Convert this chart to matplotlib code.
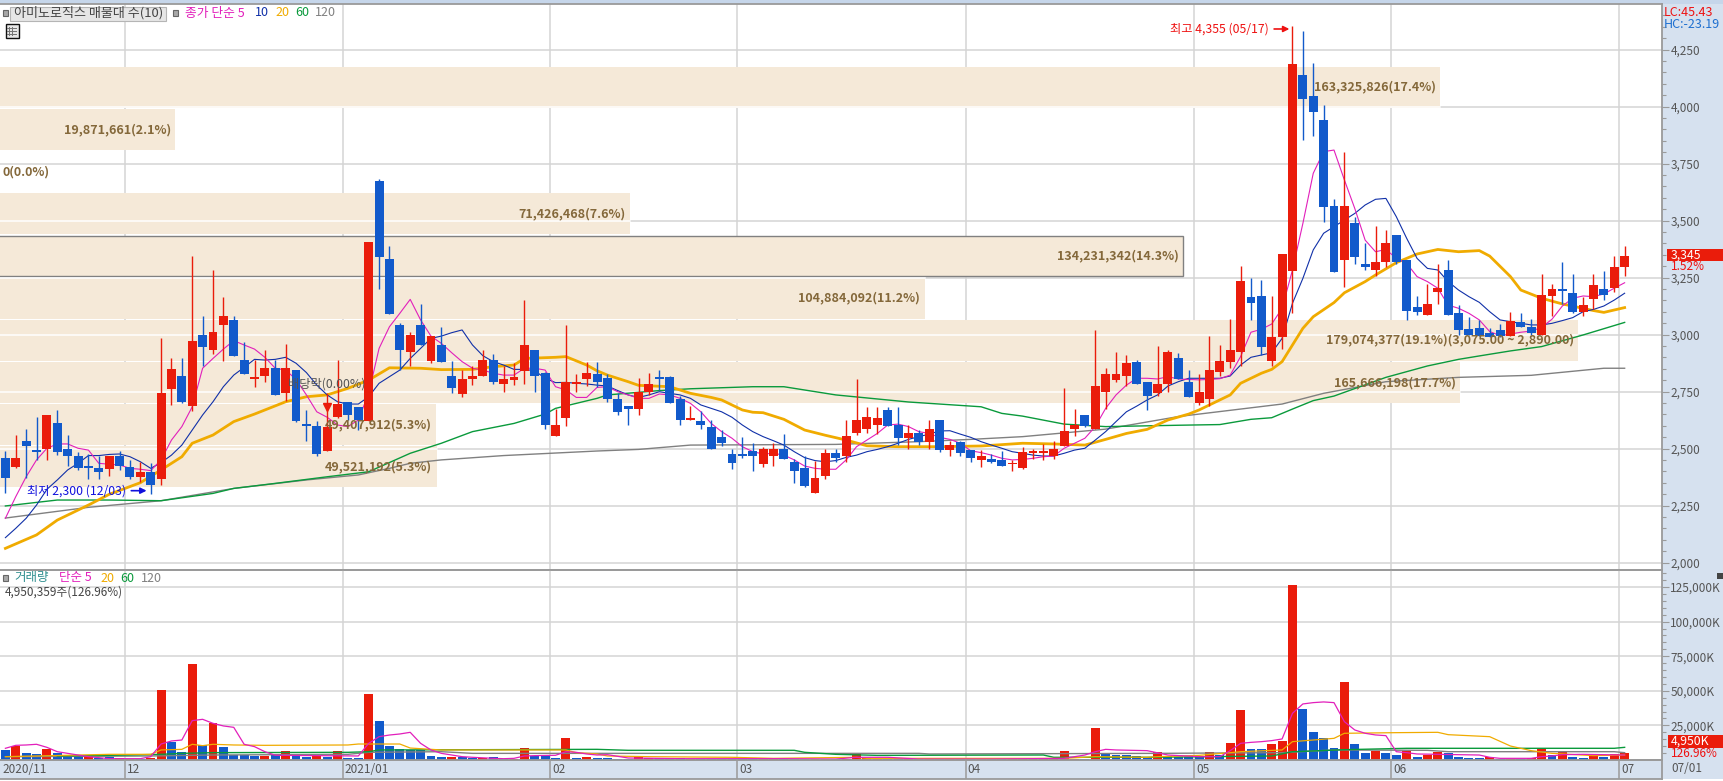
import numpy as np
import matplotlib
matplotlib.use('Agg')
import matplotlib.pyplot as plt
from matplotlib.patches import Rectangle
from matplotlib.ticker import FixedLocator, FuncFormatter

plt.rcParams['font.family'] = ['Noto Sans CJK KR', 'DejaVu Sans']

# 일봉 (open, high, low, close)
opens = [2460,2420,2535,2495,2500,2610,2500,2465,2425,2415,
         2410,2465,2420,2375,2395,2365,2760,2820,2685,3000,
         2930,3040,3065,2890,2805,2820,2855,2745,2845,2605,
         2600,2490,2640,2705,2680,2620,3675,3330,3040,2925,
         3040,2885,2955,2820,2740,2805,2820,2890,2785,2800,
         2840,2930,2830,2555,2635,2785,2805,2825,2810,2715,
         2685,2675,2750,2815,2815,2715,2625,2620,2595,2550,
         2475,2475,2490,2430,2465,2500,2440,2415,2305,2380,
         2480,2465,2570,2585,2605,2670,2605,2545,2570,2530,
         2625,2495,2530,2495,2450,2455,2450,2430,2415,2480,
         2480,2465,2510,2585,2645,2585,2750,2800,2820,2880,
         2790,2745,2785,2895,2790,2700,2715,2835,2880,2925,
         3165,3170,2885,2990,3280,4140,4045,3940,3565,3325,
         3490,3310,3285,3320,3435,3325,3120,3085,3185,3285,
         3095,3025,3030,3005,3020,2995,3055,3035,3000,3170,
         3200,3180,3100,3155,3200,3205,3295]
highs = [2490,2560,2585,2640,2645,2670,2560,2485,2475,2465,
         2465,2490,2450,2440,2435,2985,2895,2895,3345,3080,
         3285,3165,3080,2965,2890,2930,2890,2960,2845,2670,
         2620,2745,2890,2705,2680,3405,3680,3390,3050,3010,
         3135,2995,3035,2885,2845,2860,2930,2915,2860,2875,
         3150,2930,2835,2675,3040,2825,2880,2880,2825,2745,
         2685,2810,2830,2845,2820,2730,2685,2665,2625,2580,
         2500,2550,2525,2505,2525,2565,2455,2465,2445,2500,
         2500,2625,2805,2680,2680,2680,2680,2605,2580,2625,
         2625,2535,2535,2495,2495,2475,2490,2450,2505,2500,
         2520,2535,2765,2675,2645,3020,2855,2925,2910,2890,
         2790,2950,2930,2920,2845,2825,2995,2955,3070,3300,
         3250,3240,3170,3355,4355,4330,4190,4005,3595,3800,
         3515,3400,3475,3460,3435,3325,3170,3220,3310,3325,
         3130,3075,3065,3030,3045,3100,3095,3070,3265,3220,
         3320,3265,3165,3265,3280,3345,3390]
lows = [2305,2415,2370,2450,2450,2470,2425,2405,2365,2365,
        2380,2405,2365,2355,2300,2340,2690,2700,2665,2860,
        2915,2885,2905,2825,2770,2790,2735,2710,2615,2535,
        2465,2490,2635,2625,2580,2620,3200,3090,2845,2860,
        2955,2875,2880,2745,2725,2780,2820,2785,2750,2780,
        2785,2750,2585,2555,2600,2750,2775,2770,2705,2645,
        2605,2645,2735,2755,2700,2605,2625,2585,2500,2510,
        2410,2460,2400,2420,2425,2455,2350,2330,2305,2365,
        2440,2440,2560,2570,2565,2600,2515,2500,2515,2500,
        2485,2465,2465,2440,2420,2435,2425,2400,2410,2455,
        2450,2455,2510,2555,2595,2585,2675,2790,2775,2785,
        2670,2730,2750,2805,2725,2690,2685,2820,2855,2860,
        3065,2910,2860,2935,3095,3855,3870,3495,3275,3210,
        3310,3285,3255,3295,3310,3065,3085,3085,3135,3085,
        3000,3000,2995,2990,2990,2995,3035,3000,3000,3080,
        3135,3095,3080,3110,3150,3185,3255]
closes = [2370,2460,2510,2485,2645,2485,2465,2415,2415,2395,
          2465,2425,2375,2395,2340,2745,2850,2705,2970,2945,
          3010,3080,2905,2825,2810,2855,2735,2855,2620,2600,
          2475,2595,2695,2645,2625,3405,3340,3090,2930,3000,
          2955,2995,2880,2765,2805,2820,2890,2790,2805,2815,
          2955,2820,2605,2605,2790,2790,2830,2790,2715,2660,
          2675,2750,2785,2805,2700,2625,2635,2605,2500,2525,
          2435,2465,2465,2500,2500,2455,2400,2335,2370,2480,
          2460,2555,2625,2640,2635,2600,2545,2570,2530,2585,
          2495,2515,2480,2460,2465,2440,2425,2435,2485,2485,
          2485,2500,2575,2605,2600,2775,2825,2825,2875,2785,
          2730,2785,2925,2805,2725,2750,2845,2885,2930,3235,
          3140,2945,2990,3355,4185,4035,3975,3560,3275,3565,
          3340,3295,3320,3400,3320,3105,3100,3135,3205,3085,
          3020,3000,2995,2990,2995,3060,3035,3005,3175,3200,
          3190,3100,3130,3215,3175,3295,3345]

# 이동평균 5 / 10 (매일)
ma5 = [2194,2289,2376,2450,2501,2520,2520,2501,2493,2435,2431,2428,2413,2409,2403,2450,2537,2596,2683,2852,
       2895,2936,2973,2954,2936,2900,2852,2844,2803,2735,2661,2637,2603,2596,2625,2742,2939,3034,3093,3154,
       3064,2993,2961,2920,2881,2852,2844,2830,2822,2822,2852,2852,2844,2771,2757,2724,2724,2768,
       2771,2749,2735,2720,2720,2739,2735,2720,2698,2661,2610,2574,2545,2508,2486,2476,2479,2471,2450,2423,
       2413,2409,2409,2450,2508,2537,2566,2603,2607,2596,2574,2566,2549,2540,2523,2490,2482,2471,2457,2450,
       2452,2457,2464,2467,2501,2523,2545,2596,2676,2735,2778,2808,2808,2805,2815,2805,2803,
       2801,2803,2806,2822,2903,3010,3023,3046,3115,
       3283,3487,3707,3802,3809,3678,3553,3414,3363,3373,3334,3312,3254,3232,3203,
       3129,3115,3093,3064,3013,2995,3002,3010,3015,3031,3067,3125,3159,3169,3166,3178,3203,3227]
ma10 = [2109,2150,2194,2252,2321,2362,2406,2435,2469,2469,2474,2476,2464,2442,2413,2438,2471,2515,2581,2647,
        2705,2771,2822,2856,2891,2888,2891,2900,2874,2833,2778,2735,2705,2695,2695,2727,2786,2815,2844,2895,
        2939,2983,2993,3008,3020,2954,2907,2881,2866,2847,2847,2841,2808,2789,2790,2786,2783,2778,
        2774,2754,2735,2724,2735,2749,2742,2735,2720,2691,2676,2661,2637,2603,2574,2552,2534,2515,2486,2460,
        2447,2442,2447,2461,2471,2486,2496,2508,2523,2540,2552,2563,2577,2578,2563,2549,2530,2515,2501,2486,
        2479,2471,2467,2467,2479,2493,2501,2537,2574,2618,2661,2686,2713,2735,2774,2793,2808,
        2808,2808,2808,2818,2866,2900,2910,2920,2983,3137,
        3246,3371,3444,3473,3502,3531,3568,3593,3597,3517,3422,3334,3290,3283,3232,
        3195,3166,3141,3100,3064,3056,3049,3042,3042,3049,3061,3074,3100,3110,3125,3151,3181]

# 이동평균 20 / 60 / 120 (읽은 지점)
ma20_idx = [0,3,5,8,10,13,15,17,18,20,22,24,25,27,29,31,33,35,37,40,42,45,47,49,50,53,54,56,57,
            58,60,61,64,66,68,69,71,72,73,75,77,79,81,83,86,90,94,98,101,104,106,108,110,112,114,115,
            118,119,121,122,123,125,126,128,129,131,132,134,136,138,140,142,143,145,146,148,150,153,154,156]
ma20 = [2062,2121,2186,2252,2299,2350,2406,2464,2523,2559,2618,2651,2669,2705,2727,2735,2764,2800,2854,2852,2846,2847,2859,2866,2895,2900,2903,2866,2841,
        2822,2793,2777,2771,2742,2724,2713,2669,2659,2657,2628,2581,2558,2537,2512,2508,2508,2511,2523,2520,2515,2540,2566,2584,2625,2651,2669,
        2735,2786,2830,2847,2881,3027,3078,3140,3183,3232,3261,3315,3353,3373,3363,3368,3344,3254,3195,3159,3134,3105,3097,3118]
ma60_idx = [0,5,10,15,20,22,26,31,35,39,42,45,49,52,53,57,58,63,66,72,75,80,87,94,96,98,102,106,
            113,117,120,122,124,126,128,133,137,140,142,145,148,152,156]
ma60 = [2248,2274,2274,2271,2303,2325,2347,2376,2398,2479,2523,2574,2610,2651,2676,2720,2735,2754,2762,2771,2771,2735,2704,2683,2654,2642,2607,2596,
        2602,2605,2628,2635,2673,2710,2730,2812,2862,2891,2906,2928,2947,2998,3053]
ma120_idx = [0,8,15,22,29,34,37,39,42,48,57,61,66,80,88,93,98,106,113,123,127,133,140,147,154,156]
ma120 = [2195,2242,2271,2325,2362,2384,2413,2435,2450,2469,2489,2496,2515,2518,2530,2540,2552,2585,2640,2695,2742,2793,2812,2821,2852,2852]

# 매물대
band_low = [3992,3807,3622,3437,3252,3067,2882,2697,2512,2327]
band_high = [4177,3992,3807,3622,3437,3252,3067,2882,2697,2512]
band_vol = [163325826,19871661,0,71426468,134231342,104884092,179074377,165666198,49407912,49521192]
band_text = ['163,325,826(17.4%)','19,871,661(2.1%)','0(0.0%)','71,426,468(7.6%)','134,231,342(14.3%)',
             '104,884,092(11.2%)','179,074,377(19.1%)(3,075.00 ~ 2,890.00)','165,666,198(17.7%)',
             '49,407,912(5.3%)','49,521,192(5.3%)']
band_current = 4

# 거래량 (K)
volume = [7200,10100,5050,4350,7950,5300,3600,3150,2900,1450,
          2400,1200,950,950,1200,50600,13250,5800,69400,10850,
          26500,9400,3600,3600,2900,2900,3600,6250,3150,2150,
          3150,2150,6250,1450,1450,47700,28200,10100,7950,7200,
          7200,2900,2150,2150,2150,1450,1450,2150,700,700,
          8650,3150,3150,1450,15900,1450,2150,1700,1450,950,
          950,1950,1200,1200,1200,1200,950,950,950,950,
          950,950,950,950,950,950,950,700,700,700,
          700,700,4800,1200,950,950,950,950,950,950,
          700,700,700,700,700,700,700,700,700,700,
          700,700,6500,950,950,23150,4350,3600,3600,2900,
          2400,5800,2900,1900,2400,2400,5800,3600,12300,36150,
          7950,7950,11550,13750,126500,36850,20250,15650,8650,56400,
          11550,5050,6500,5050,3600,6500,2150,3850,6000,4800,
          2150,1450,1450,2150,950,700,950,1200,7950,3350,
          6000,2150,1450,2900,2150,4350,4950]
vol_color = ('brbbrbbbrb' 'brrbrrbbrb' 'rbbbbrbrbb' 'rbrbbrbbbb' 'bbbrbbrbbr' 'rbbbrbrbbb'
             'brrbbbrbbb' 'bbbrrbbbrr' 'brrrrbbrbr' 'brbbrbbrrr' 'rrrrbrbbbb' 'brbbbbrbrr'
             'bbrrrbbbbr' 'bbrbbrbrrb' 'bbbrbrbrrb' 'rbbrbrr')

vma5_idx = [0,1,2,3,4,5,6,7,8,9,10,13,14,15,16,17,18,19,20,21,22,23,24,25,26,34,35,36,37,38,39,40,41,42,43,44,45,47,48,49,50,51,53,54,55,56,57,58,60,65,75,80,82,85,88,95,102,104,105,106,107,110,112,115,117,118,119,120,121,122,123,124,125,126,127,128,129,130,131,132,133,134,135,136,138,140,142,143,144,147,148,149,150,152,156]
vma5 = [8450,10600,10850,11350,9150,6000,4800,3600,2400,1700,950,950,2400,11550,13750,14450,28450,29400,26500,24600,23600,11350,9650,6000,3400,2900,12050,16850,18050,18800,20000,12050,7250,4800,3600,2400,1950,1200,950,1200,2900,3150,3400,6000,5550,4350,3600,3850,1450,950,950,700,1950,1950,700,700,1200,3600,6000,7700,7250,6750,3600,2400,2400,6750,12050,12750,13250,14000,15200,33750,40500,41450,41950,41450,27700,21700,19300,18100,17600,6000,5300,4350,4100,3850,3600,1950,1200,1200,2400,2900,3850,4100,3600]
vma20_idx = [0,10,14,15,17,18,19,20,22,25,33,34,38,39,42,50,54,55,57,58,62,70,74,82,83,102,105,110,111,115,118,119,123,124,126,128,129,134,138,139,143,145,147,149,153,156]
vma20 = [2400,4100,4100,7250,7700,11350,10350,11350,10850,10600,10850,11550,11550,8650,7250,7250,7250,5300,4350,2900,2400,1950,1200,1950,1200,1200,2400,1950,2400,3350,5300,6000,7250,13250,14450,15650,19300,19750,20000,18300,16850,10100,6750,4800,3150,3600]
vma60_idx = [5,10,15,17,20,33,35,36,57,60,76,77,80,84,100,101,110,122,124,125,129,135,155,156]
vma60 = [2900,3350,4100,4800,5300,5550,6000,7250,7700,7000,7000,5550,4100,3350,3600,1950,1950,2900,6000,6250,7450,8450,8450,9150]
vma120_idx = [0,14,20,33,35,42,45,55,58,88,89,111,123,128,137,139,155,156]
vma120 = [2400,2900,3600,4100,5550,6000,4800,4800,4800,4800,4350,4800,5300,7250,7000,6000,6000,5300]

month_start = [0,12,33,53,71,93,115,134,156]
month_label = ['2020/11','12','2021/01','02','03','04','05','06','07']

price_ticks = list(range(2000,4251,250))
volume_ticks = list(range(25000,125001,25000))

W, H = 1723, 781
RED, BLUE = '#ea1c0b', '#125acb'
GRID = '#d4d4d4'
AXIS = '#9a9a9a'
PANEL = '#d6e1ef'
LABEL = '#555555'
BAND = '#f5e9d8'
BAND_TEXT = '#84683a'
C5, C10, C20, C60, C120 = '#e21fbb', '#1030a8', '#f0ab00', '#0a9a3c', '#808080'

x = np.arange(len(closes))
xlim = (-0.52, 159.6)
px_per_share = 8.815e-6 / 10.38  # 매물대 막대 길이


def pos(left, top, right, bottom):
    return [left / W, 1 - bottom / H, (right - left) / W, (bottom - top) / H]


def box(left, top, right, bottom, zorder=-1, **kw):
    fig.add_artist(Rectangle((left / W, 1 - bottom / H), (right - left) / W, (bottom - top) / H,
                             transform=fig.transFigure, zorder=zorder, **kw))


def label(px, py, s, color=LABEL, size=8.5, **kw):
    fig.text(px / W, 1 - py / H, s, color=color, fontsize=size, va='center', zorder=8, **kw)


fig = plt.figure(figsize=(W / 100, H / 100), dpi=100, facecolor='white')

# 바탕
box(0, 0, W, 4, facecolor='#c6d6ea', edgecolor='none')
box(1662, 4, W, 779, facecolor=PANEL, edgecolor='none')
box(0, 760, 1662, 779, facecolor=PANEL, edgecolor='none')

ax = fig.add_axes(pos(0, 4, 1662, 569.5))
ax_vol = fig.add_axes(pos(0, 569.5, 1662, 760))
ax_x = fig.add_axes(pos(0, 760, 1662, 779))

# 가격 차트
ax.set_xlim(xlim)
ax.set_ylim(1969.3, 4449.6)
for p in price_ticks:
    ax.axhline(p, color=GRID, lw=1.1, zorder=1)
for m in month_start[1:]:
    ax.axvline(m - 0.5, color=GRID, lw=1.1, zorder=1)

for i in range(len(band_vol)):
    mid = (band_low[i] + band_high[i]) / 2
    right = xlim[0] + band_vol[i] * px_per_share
    if band_vol[i] > 0:
        edge = '#808080' if i == band_current else 'none'
        ax.barh(mid, band_vol[i] * px_per_share + 1, left=xlim[0] - 1, height=179, color=BAND,
                edgecolor=edge, linewidth=1, zorder=2)
        for p in price_ticks:
            if band_low[i] < p < band_high[i]:
                ax.plot([xlim[0], right], [p, p], color='white', lw=1.1, zorder=2.5)
        ax.annotate(band_text[i], (right, mid), xytext=(-3, 0), textcoords='offset points',
                    ha='right', va='center', fontsize=9, fontweight='bold', color=BAND_TEXT, zorder=20)
    else:
        ax.annotate(band_text[i], (right, mid), xytext=(2, 0), textcoords='offset points',
                    ha='left', va='center', fontsize=9, fontweight='bold', color=BAND_TEXT, zorder=20)

ax.plot(ma120_idx, ma120, color=C120, lw=1.0, zorder=3)
ax.plot(ma60_idx, ma60, color=C60, lw=1.0, zorder=3.1)
ax.plot(ma20_idx, ma20, color=C20, lw=2.0, zorder=3.2)
ax.plot(x, ma10, color=C10, lw=0.8, zorder=3.3)
ax.plot(x, ma5, color=C5, lw=0.8, zorder=3.4)

colors = [RED if c >= o else BLUE for o, c in zip(opens, closes)]
ax.vlines(x, lows, highs, colors=colors, lw=1.0, zorder=5)
body_low = np.minimum(opens, closes)
body_h = np.maximum(np.abs(np.array(closes) - np.array(opens)), 8)
ax.bar(x, body_h, bottom=body_low, width=0.86, color=colors, linewidth=0, zorder=6)

# 최고 / 최저 / 배당락
ax.annotate('최고 4,355 (05/17)', xy=(123.7, 4340), xytext=(-15, 0), textcoords='offset points',
            ha='right', va='center', fontsize=8.8, color='#ee1111', zorder=20,
            arrowprops=dict(arrowstyle='-|>', color='#ee1111', lw=1.2, shrinkA=2, shrinkB=0))
ax.annotate('최저 2,300 (12/03)', xy=(13.6, 2315), xytext=(-15, 0), textcoords='offset points',
            ha='right', va='center', fontsize=8.8, color='#1111dd', zorder=20,
            arrowprops=dict(arrowstyle='-|>', color='#1111dd', lw=1.2, shrinkA=2, shrinkB=0))
ax.plot(31, 2680, marker='v', color=RED, markersize=6, linestyle='none', zorder=7)
ax.text(31, 2783, '배당락(0.00%)', ha='center', va='center', fontsize=8.8, color='#555555', zorder=20)

ax.yaxis.tick_right()
ax.yaxis.set_major_locator(FixedLocator(price_ticks))
ax.yaxis.set_minor_locator(FixedLocator(list(range(2000, 4401, 50))))
ax.yaxis.set_major_formatter(FuncFormatter(lambda v, _: f'{v:,.0f}'))
ax.tick_params(axis='y', which='major', length=5, width=0.8, color=AXIS, labelcolor=LABEL, labelsize=8.5, pad=1)
ax.tick_params(axis='y', which='minor', length=3, width=0.8, color=AXIS)
ax.set_xticks([])

# 거래량 차트
ax_vol.set_xlim(xlim)
ax_vol.set_ylim(0, 137640)
for v in volume_ticks:
    ax_vol.axhline(v, color=GRID, lw=1.1, zorder=1)
for m in month_start[1:]:
    ax_vol.axvline(m - 0.5, color=GRID, lw=1.1, zorder=1)
vol_bar_colors = [RED if c == 'r' else BLUE for c in vol_color]
ax_vol.bar(x, volume, width=0.86, color=vol_bar_colors, linewidth=0, zorder=3)
ax_vol.plot(vma120_idx, vma120, color=C120, lw=1.0, zorder=4)
ax_vol.plot(vma60_idx, vma60, color=C60, lw=1.0, zorder=4.1)
ax_vol.plot(vma20_idx, vma20, color=C20, lw=0.9, zorder=4.2)
ax_vol.plot(vma5_idx, vma5, color=C5, lw=0.9, zorder=4.3)
ax_vol.yaxis.tick_right()
ax_vol.yaxis.set_major_locator(FixedLocator(volume_ticks))
ax_vol.yaxis.set_minor_locator(FixedLocator(list(range(5000, 135001, 5000))))
ax_vol.yaxis.set_major_formatter(FuncFormatter(lambda v, _: f'{v:,.0f}K'))
ax_vol.tick_params(axis='y', which='major', length=5, width=0.8, color=AXIS, labelcolor=LABEL, labelsize=8.5, pad=1)
ax_vol.tick_params(axis='y', which='minor', length=3, width=0.8, color=AXIS)
ax_vol.set_xticks([])

# 날짜 축
ax_x.set_xlim(xlim)
ax_x.set_ylim(0, 1)
ax_x.patch.set_alpha(0)
ax_x.set_xticks([])
ax_x.set_yticks([])
for m, t in zip(month_start, month_label):
    if m > 0:
        ax_x.axvline(m - 0.5, color=AXIS, lw=1.1)
    ax_x.annotate(t, (m - 0.5, 0.5), xytext=(1.5, 0), textcoords='offset points', va='center',
                  fontsize=8.5, color=LABEL)

for a in (ax, ax_vol, ax_x):
    a.patch.set_alpha(0)
    for side in ('left', 'top', 'bottom', 'right'):
        a.spines[side].set_color(AXIS)
        a.spines[side].set_linewidth(1.3)
    a.spines['left'].set_visible(False)

# 범례
box(3, 10, 8, 16, zorder=7, facecolor='#a8a8a8', edgecolor='#666666', linewidth=0.8)
box(10, 6.5, 166, 20.5, zorder=7, facecolor='#e6e6e6', edgecolor='#b5b5b5', linewidth=0.8)
label(14, 13, '아미노로직스 매물대 수(10)', '#444444', 9.4)
box(173, 10, 178, 16, zorder=7, facecolor='#a8a8a8', edgecolor='#666666', linewidth=0.8)
label(185, 13, '종가 단순 5', C5, 9.2)
label(255, 13, '10', C10, 9)
label(275, 13, '20', C20, 9)
label(295, 13, '60', C60, 9)
label(315, 13, '120', C120, 9)

# 표 아이콘
box(5.5, 24.5, 18.5, 37.5, zorder=7, facecolor='#e8e8e8', edgecolor='#111111', linewidth=1)
for gx in (9, 12, 15):
    box(gx, 27, gx + 0.5, 36, zorder=7.1, facecolor='#777777', edgecolor='none')
for gy in (28, 31, 34):
    box(7, gy, 17, gy + 0.5, zorder=7.1, facecolor='#777777', edgecolor='none')

box(3, 575, 8, 581, zorder=7, facecolor='#a8a8a8', edgecolor='#666666', linewidth=0.8)
label(14, 578, '거래량', '#2f8f8f', 9)
label(58.6, 578, '단순 5', C5, 9)
label(100, 578, '20', C20, 9)
label(120.5, 578, '60', C60, 9)
label(141, 578, '120', C120, 9)
label(4.5, 592, '4,950,359주(126.96%)', '#444444', 8.5)

# 오른쪽 표시
label(1663.5, 12.5, 'LC:45.43', '#ee1111', 9)
label(1663.5, 24.5, 'HC:-23.19', '#1e6fd0', 9)
box(1667, 248.5, W, 261, zorder=7, facecolor=RED, edgecolor='none')
label(1671, 255, '3,345', 'white', 8.8)
label(1671, 266.5, '1.52%', '#ee1111', 8.5)
box(1667.5, 735, W, 747.5, zorder=7, facecolor=RED, edgecolor='none')
label(1671, 741, '4,950K', 'white', 8.8)
label(1671, 753.5, '126.96%', '#ee1111', 8.5)
box(1717, 573, 1723, 579, zorder=7, facecolor='#444444', edgecolor='none')
label(1671, 769, '07/01', LABEL, 8.5)

plt.savefig('out.png', dpi=100)
